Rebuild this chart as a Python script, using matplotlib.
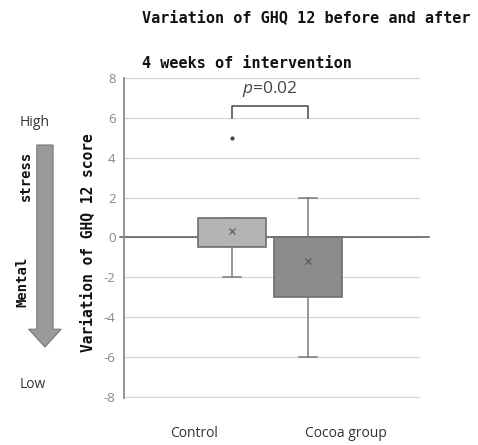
import matplotlib.pyplot as plt
from matplotlib.patches import FancyArrow

# values
groups = ["Control", "Cocoa group"]
q1 = [-0.5, -3.0]
q3 = [1.0, 0.0]
med = [0.0, 0.0]
whislo = [-2.0, -6.0]
whishi = [1.0, 2.0]
means = [0.3, -1.2]
fliers = [[5.0], []]
box_colors = ["#b4b4b4", "#8c8c8c"]
yticks = [-8, -6, -4, -2, 0, 2, 4, 6, 8]
p_text = "$p$=0.02"

plt.rcParams["font.family"] = ["Open Sans", "DejaVu Sans"]
plt.rcParams["mathtext.fontset"] = "custom"
plt.rcParams["mathtext.it"] = "Open Sans:italic"

fig = plt.figure(figsize=(4.78, 4.45), dpi=100)
ax = fig.add_axes([0.2594, 0.1056, 0.619, 0.719])

stats = []
for i in range(len(groups)):
    stats.append({"med": med[i], "q1": q1[i], "q3": q3[i], "whislo": whislo[i],
                  "whishi": whishi[i], "mean": means[i], "fliers": fliers[i]})

positions = [1, 2]
bp = ax.bxp(stats, positions=positions, widths=0.9, patch_artist=True, showmeans=True,
            showcaps=True,
            medianprops=dict(color="none"),
            meanprops=dict(marker="x", markeredgecolor="#555555", markersize=4, markeredgewidth=0.8),
            whiskerprops=dict(color="#7a7a7a", linewidth=1.1),
            capprops=dict(color="#7a7a7a", linewidth=1.1),
            flierprops=dict(marker="o", markerfacecolor="#444444", markeredgecolor="#444444", markersize=2),
            boxprops=dict(edgecolor="#6e6e6e", linewidth=1.2))
for patch, c in zip(bp["boxes"], box_colors):
    patch.set_facecolor(c)
for cap in bp["caps"]:
    x = cap.get_xdata()
    mid = (x[0] + x[1]) / 2
    cap.set_xdata([mid - 0.12, mid + 0.12])

ax.set_xlim(-0.42, 3.47)
ax.set_ylim(-8.06, 8)
ax.set_yticks(yticks)
ax.set_yticklabels([str(t) for t in yticks], color="#888888", fontsize=9.5)
ax.grid(axis="y", color="#d6d6d6", linewidth=0.9)
ax.set_axisbelow(True)
ax.tick_params(axis="y", length=0, pad=6)
ax.tick_params(axis="x", length=0, pad=20)
ax.set_xticks([0.5, 2.5])
ax.set_xticklabels(groups, color="#333333", fontsize=10)
for s in ["top", "right", "bottom"]:
    ax.spines[s].set_visible(False)
ax.spines["left"].set_color("#8a8a8a")
ax.spines["left"].set_linewidth(1.3)

# zero line extending past the axes
ax.axhline(0, xmin=-0.015, xmax=1.03, color="#555555", linewidth=1.1, clip_on=False, zorder=1.5)

# significance bracket
ax.plot([1, 1, 2, 2], [6.0, 6.6, 6.6, 6.0], color="#555555", linewidth=1.2)
ax.text(1.5, 6.95, p_text, ha="center", va="bottom", fontsize=12.5, color="#444444")

# title and axis label
mono = "DejaVu Sans Mono"
fig.text(0.298, 0.96, "Variation of GHQ 12 before and after", family=mono, weight="bold",
         fontsize=10.9, ha="left", va="center", color="#111111")
fig.text(0.298, 0.858, "4 weeks of intervention", family=mono, weight="bold",
         fontsize=10.9, ha="left", va="center", color="#111111")
fig.text(0.184, 0.455, "Variation of GHQ 12 score", family=mono, weight="bold",
         fontsize=10.5, rotation=90, ha="center", va="center", color="#111111")

# mental stress arrow on the left
arr = FancyArrow(0.094, 1 - 145 / 445, 0, -(347 - 145) / 445, width=0.034, head_width=0.068,
                 head_length=0.04, length_includes_head=True, transform=fig.transFigure,
                 facecolor="#9a9a9a", edgecolor="#777777", linewidth=0.8)
fig.patches.append(arr)
fig.text(0.055, 1 - 176 / 445, "stress", family=mono, weight="bold", fontsize=10,
         rotation=90, ha="center", va="center", color="#111111")
fig.text(0.047, 1 - 282 / 445, "Mental", family=mono, weight="bold", fontsize=10,
         rotation=90, ha="center", va="center", color="#111111")
fig.text(0.073, 1 - 122 / 445, "High", fontsize=10, ha="center", va="center", color="#333333")
fig.text(0.068, 1 - 385 / 445, "Low", fontsize=10, ha="center", va="center", color="#333333")

fig.savefig("out.png", dpi=100)
